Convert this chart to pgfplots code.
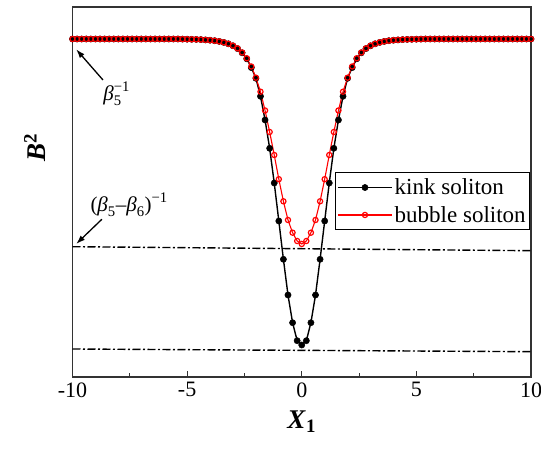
\documentclass[border=0pt]{standalone}
\usepackage{amsmath}
\usepackage{fontspec}
\setmainfont{Liberation Serif}
\usepackage{pgfplots}
\usepackage{pgfplotstable}
\usetikzlibrary{arrows.meta}
\pgfplotsset{compat=1.18}
\pgfplotstableread{
x k b
-10.0 338 338
-9.8 338 338
-9.6 338 338
-9.4 338 338
-9.2 338 338
-9.0 338 338
-8.8 338 338
-8.6 338 338
-8.4 338 338
-8.2 338 338
-8.0 338 338
-7.8 338 338
-7.6 338 338
-7.4 338 338
-7.2 338 338
-7.0 338 338
-6.8 338 338
-6.6 338 338
-6.4 338 338
-6.2 338 338
-6.0 338 338
-5.8 338 338
-5.6 338 338
-5.4 338 338
-5.2 337.9 337.9
-5.0 337.8 337.8
-4.8 337.7 337.7
-4.6 337.6 337.6
-4.4 337.4 337.4
-4.2 337.1 337.1
-4.0 336.8 336.8
-3.8 336.3 336.3
-3.6 335.6 335.6
-3.4 334.6 334.6
-3.2 333.2 333.2
-3.0 331.2 331.3
-2.8 328.4 328.6
-2.6 324.2 324.5
-2.4 318.2 318.7
-2.2 309.4 310.5
-2.0 298.7 299.3
-1.8 280.7 285.3
-1.6 257.0 266.5
-1.4 228.7 245.0
-1.2 194.0 222.0
-1.0 156.0 197.8
-0.8 117.7 175.7
-0.6 82.0 157.0
-0.4 54.3 144.3
-0.2 36.3 136.0
0.0 32.0 133.0
0.2 36.3 136.0
0.4 54.3 144.3
0.6 82.0 157.0
0.8 117.7 175.7
1.0 156.0 197.8
1.2 194.0 222.0
1.4 228.7 245.0
1.6 257.0 266.5
1.8 280.7 285.3
2.0 298.7 299.3
2.2 309.4 310.5
2.4 318.2 318.7
2.6 324.2 324.5
2.8 328.4 328.6
3.0 331.2 331.3
3.2 333.2 333.2
3.4 334.6 334.6
3.6 335.6 335.6
3.8 336.3 336.3
4.0 336.8 336.8
4.2 337.1 337.1
4.4 337.4 337.4
4.6 337.6 337.6
4.8 337.7 337.7
5.0 337.8 337.8
5.2 337.9 337.9
5.4 338 338
5.6 338 338
5.8 338 338
6.0 338 338
6.2 338 338
6.4 338 338
6.6 338 338
6.8 338 338
7.0 338 338
7.2 338 338
7.4 338 338
7.6 338 338
7.8 338 338
8.0 338 338
8.2 338 338
8.4 338 338
8.6 338 338
8.8 338 338
9.0 338 338
9.2 338 338
9.4 338 338
9.6 338 338
9.8 338 338
10.0 338 338
}\soliton
\begin{document}
\begin{tikzpicture}
\useasboundingbox (-72.5pt,-83pt) rectangle (468.5pt,377pt);
\begin{axis}[
  at={(0,0)}, anchor=south west,
  scale only axis,
  width=458.5pt, height=370pt,
  xmin=-10, xmax=10, ymin=0, ymax=370,
  xtick={-10,-5,0,5,10},
  minor x tick num=1,
  xtick pos=bottom,
  ytick=\empty,
  tick align=inside,
  major tick length=6pt,
  minor tick length=3.5pt,
  axis line style={line width=1.4pt, draw=black!80},
  every tick/.style={line width=1pt, black!80},
  /pgf/number format/assume math mode=true,
  ticklabel style={font=\fontsize{22}{26}\selectfont},
  xticklabel style={yshift=-2pt},
  xlabel={\textbf{\textit{X}}\textsubscript{\textbf{1}}},
  xlabel style={font=\fontsize{27}{30}\selectfont, at={(axis description cs:0.5,-0.12)}, anchor=center},
  ylabel={\textbf{\textit{B}}\textsuperscript{\textbf{2}}},
  ylabel style={font=\fontsize{27}{30}\selectfont, at={(axis description cs:-0.082,0.62)}, anchor=center},
  legend style={at={(rel axis cs:0.998,0.553)}, anchor=north east, draw=black, line width=0.8pt,
    font=\fontsize{23}{27}\selectfont, inner xsep=2pt, inner ysep=4pt, row sep=6pt},
  legend cell align=left,
  legend image code/.code={
    \draw[mark repeat=2,mark phase=2] plot coordinates {(0cm,0cm) (0.95cm,0cm) (1.9cm,0cm)};
  },
]
\addplot[black, line width=1.4pt, mark=*, mark size=3.1pt, mark options={fill=black, draw=black, line width=0.5pt}]
  table[x=x, y=k] {\soliton};
\addlegendentry{kink soliton}
\addplot[red, line width=1.1pt, mark=o, mark size=2.6pt, mark options={fill=white, draw=red, line width=1.2pt}]
  table[x=x, y=b] {\soliton};
\addlegendentry{bubble soliton}
\addplot[black, line width=1.4pt, dash pattern=on 8pt off 2.5pt on 2pt off 2.5pt, forget plot]
  coordinates {(-10,130.3) (10,126.3)};
\addplot[black, line width=1.4pt, dash pattern=on 8pt off 2.5pt on 2pt off 2.5pt, forget plot]
  coordinates {(-10,28) (10,25.3)};
\draw[-{Latex[length=9pt,width=6pt]}, line width=1.3pt] (axis cs:-8.67,297) -- (axis cs:-9.84,327.7);
\draw[-{Latex[length=9pt,width=6pt]}, line width=1.3pt] (axis cs:-8.72,157.7) -- (axis cs:-9.84,133);
\node[font=\fontsize{21}{24}\selectfont] at (axis cs:-8.07,283) {$\textit{β}_{\text{5}}^{\text{−1}}$};
\node[font=\fontsize{21}{24}\selectfont] at (axis cs:-7.53,172) {$\text{(}\textit{β}_{\text{5}}\text{–}\textit{β}_{\text{6}}\text{)}^{\text{−1}}$};
\end{axis}
\end{tikzpicture}
\end{document}
